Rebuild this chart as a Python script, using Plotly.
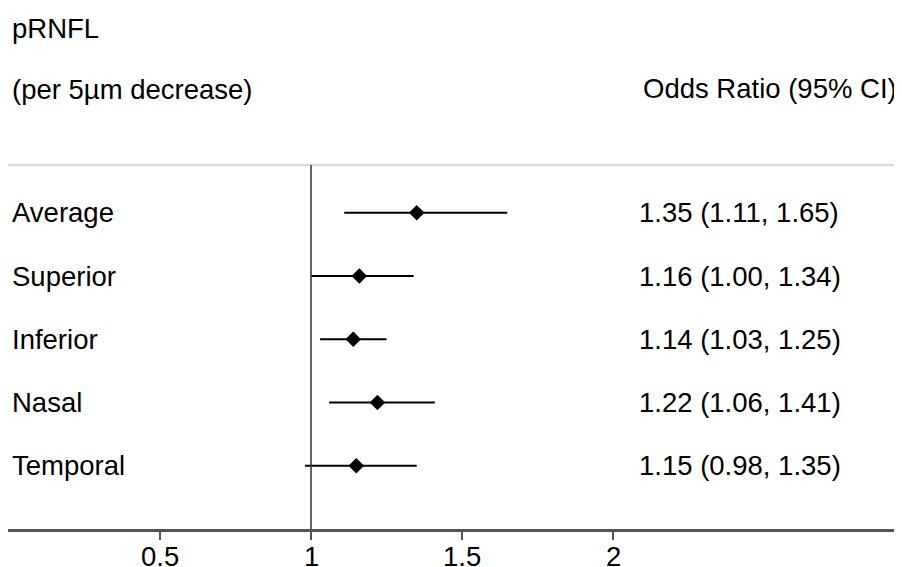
import plotly.graph_objects as go

# ---- data ----
categories = ["Average", "Superior", "Inferior", "Nasal", "Temporal"]
odds_ratio = [1.35, 1.16, 1.14, 1.22, 1.15]
ci_low = [1.11, 1.00, 1.03, 1.06, 0.98]
ci_high = [1.65, 1.34, 1.25, 1.41, 1.35]
tick_vals = [0.5, 1, 1.5, 2]
tick_text = ["0.5", "1", "1.5", "2"]
header_left_1 = "pRNFL"
header_left_2 = "(per 5µm decrease)"
header_right = "Odds Ratio (95% CI)"

# page body has an 8px margin: work in window pixels and subtract it
OFF = 8
W, H = 902 - OFF, 567 - OFF


def fx(p):  # window px -> figure px
    return p - OFF


def fy(p):
    return p - OFF


ML = 0
MR = 0
MT = fy(165)
MB = 567 - 529
FONT = "Helvetica, Arial, Liberation Sans, sans-serif"
FS = 27.5

n = len(categories)
ypos = [n - i for i in range(n)]  # 5..1 top to bottom

fig = go.Figure()
fig.add_trace(go.Scatter(
    x=odds_ratio, y=ypos, mode="markers",
    marker=dict(symbol="diamond", size=12, color="black", line=dict(width=0)),
    error_x=dict(type="data", symmetric=False,
                 array=[h - o for h, o in zip(ci_high, odds_ratio)],
                 arrayminus=[o - l for o, l in zip(odds_ratio, ci_low)],
                 width=0, thickness=2, color="black"),
    showlegend=False, hoverinfo="skip",
))

pw = W - ML - MR
px_per = 302.0
x0 = 1 - (fx(311) - ML) / px_per
x1 = x0 + pw / px_per
ph = H - MT - MB
row_px = 63.25
y_top = ph / row_px


def pxp(p):  # window px -> paper x
    return (fx(p) - ML) / pw


def pyp(p):  # window px -> paper y
    return (H - MB - fy(p)) / ph


annotations = []
x_ci = 1 + (637 - 311) / px_per
for cat, y, o, l, h in zip(categories, ypos, odds_ratio, ci_low, ci_high):
    annotations.append(dict(x=pxp(10), xref="paper", y=y, yref="y",
                            text=cat, showarrow=False, xanchor="left", yanchor="middle",
                            font=dict(family=FONT, size=FS, color="black")))
    annotations.append(dict(x=x_ci, xref="x", y=y, yref="y",
                            text=f"{o:.2f} ({l:.2f}, {h:.2f})", showarrow=False,
                            xanchor="left", yanchor="middle",
                            font=dict(family=FONT, size=FS, color="black")))

# x tick labels (placed closer to the axis than plotly's default standoff)
for tv, tt in zip(tick_vals, tick_text):
    annotations.append(dict(x=tv, xref="x", y=pyp(556), yref="paper",
                            text=tt, showarrow=False, xanchor="center", yanchor="middle",
                            font=dict(family=FONT, size=FS, color="black")))

annotations.append(dict(x=pxp(10), xref="paper", y=pyp(28), yref="paper",
                        text=header_left_1, showarrow=False, xanchor="left", yanchor="middle",
                        font=dict(family=FONT, size=FS, color="black")))
annotations.append(dict(x=pxp(10), xref="paper", y=pyp(89), yref="paper",
                        text=header_left_2, showarrow=False, xanchor="left", yanchor="middle",
                        font=dict(family=FONT, size=FS, color="black")))
annotations.append(dict(x=pxp(899), xref="paper", y=pyp(88), yref="paper",
                        text=header_right, showarrow=False, xanchor="right", yanchor="middle",
                        font=dict(family=FONT, size=FS, color="black")))

shapes = [
    dict(type="line", xref="paper", yref="paper", x0=0, x1=1, y0=1, y1=1,
         line=dict(color="#d9d9d9", width=2.5)),
    dict(type="line", xref="x", yref="paper", x0=1, x1=1, y0=0, y1=1,
         line=dict(color="#333333", width=1.5)),
]

fig.update_layout(
    width=W, height=H,
    margin=dict(l=ML, r=MR, t=MT, b=MB, pad=0, autoexpand=False),
    paper_bgcolor="white", plot_bgcolor="white",
    font=dict(family=FONT, size=FS, color="black"),
    xaxis=dict(range=[x0, x1], showgrid=False, zeroline=False, automargin=False,
               showline=True, linecolor="#555555", linewidth=2.5,
               ticks="outside", ticklen=8, tickwidth=1.5, tickcolor="#555555",
               tickvals=tick_vals, showticklabels=False, fixedrange=True),
    yaxis=dict(range=[0, y_top], showgrid=False, zeroline=False, showline=False,
               automargin=False,
               showticklabels=False, ticks="", fixedrange=True),
    annotations=annotations, shapes=shapes,
    showlegend=False,
)

fig.write_html("out.html")
